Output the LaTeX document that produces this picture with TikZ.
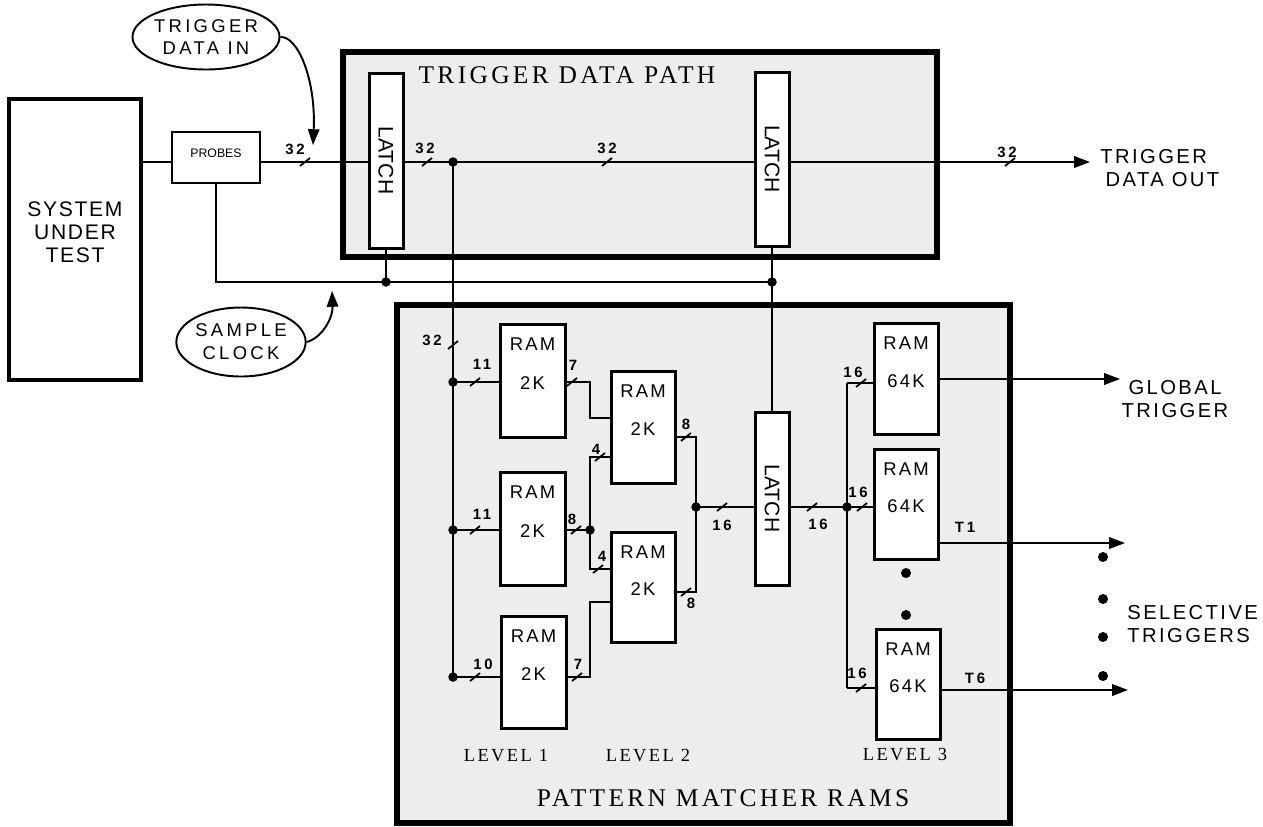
\documentclass[tikz,border=0pt]{standalone}
\usepackage{fontspec}
\setmainfont{Liberation Sans}
\newfontfamily\sutfont[LetterSpace=8]{Liberation Sans}
\newfontfamily\widesans[LetterSpace=18]{Liberation Sans}
\newfontfamily\midsans[LetterSpace=12]{Liberation Sans}
\newfontfamily\titlefont[LetterSpace=13]{Liberation Serif}
\newfontfamily\levelfont[LetterSpace=13]{Liberation Serif}
\usetikzlibrary{arrows.meta,shapes.geometric,fit,calc}
\tikzset{
  bigpanel/.style={draw, line width=3.2pt, fill=black!7, inner sep=0pt},
  blk/.style={draw, line width=1.7pt, fill=white, inner sep=0pt},
  wire/.style={line width=1.1pt},
  arr/.style={wire, -{Triangle[length=9pt,width=6.5pt]}},
  jdot/.style={circle, fill, inner sep=0pt, minimum size=0.19cm},
  bdot/.style={circle, fill, inner sep=0pt, minimum size=0.2cm},
  buslbl/.style={font=\widesans\fontsize{8.5}{9}\selectfont\bfseries, inner sep=0pt},
  ramtxt/.style={font=\midsans\fontsize{10.5}{12}\selectfont, inner sep=0pt},
  latchtxt/.style={font=\fontsize{12}{14}\selectfont, rotate=-90, inner sep=0pt},
  lvl/.style={font=\levelfont\fontsize{10.5}{12}\selectfont, inner sep=0pt},
  ttl/.style={font=\titlefont\fontsize{14.5}{16}\selectfont, inner sep=0pt},
  oval/.style={ellipse, draw, line width=1.1pt, fill=white, inner sep=0pt, align=center,
     font=\widesans\fontsize{10.5}{13}\selectfont},
  outlbl/.style={font=\midsans\fontsize{11.5}{13.5}\selectfont, inner sep=0pt},
  busslash/.pic={\draw[line width=1pt] (-5,4) -- (5,-4);}
}
\begin{document}
\begin{tikzpicture}[x=0.02cm,y=-0.02cm]
\useasboundingbox (0,0) rectangle (1263,826);

% panels
\node[bigpanel, fit={(343,52)(937,257)}] (tdp) {};
\node[bigpanel, fit={(397,305)(1010,823)}] (pmr) {};
\node[ttl] (tdpt) at (567,75) {TRIGGER DATA PATH};
\node[ttl] (pmrt) at (723,798) {PATTERN MATCHER RAMS};

% reference coordinates
\coordinate (m) at (0,162);
\coordinate (ck) at (0,282);
\coordinate (j1) at (453,162);
\coordinate (ja) at (453,382);
\coordinate (jb) at (453,530);
\coordinate (jc) at (453,677);
\coordinate (jd) at (590,530);
\coordinate (je) at (696,507);
\coordinate (jf) at (847,507);
\coordinate (jg) at (847,383);
\coordinate (jh) at (847,688);
\coordinate (tdoend) at (1090,162);
\coordinate (gend) at (1120,379);
\coordinate (t1end) at (1125,543);
\coordinate (t6end) at (1128,690);
\coordinate (tdiend) at (313,145);
\coordinate (scend) at (332,291);

% blocks
\node[blk, line width=2.8pt, fit={(9,99)(141,380)}, align=center,
      font=\sutfont\fontsize{12}{13}\selectfont] (sut) {SYSTEM\\UNDER\\TEST};
\node[blk, line width=1.3pt, fit={(172,132)(260,183)}, font=\fontsize{7}{8}\selectfont] (probes) {PROBES};
\node[blk, fit={(369,73)(403,248)}] (l1) {};
\node[blk, fit={(755,72)(789,246)}] (l2) {};
\node[blk, fit={(755,412)(789,585)}] (l3) {};

\node[blk, fit={(500,324)(565,437)}] (r1) {};
\node[blk, fit={(500,472)(565,585)}] (r2) {};
\node[blk, fit={(501,616)(566,728)}] (r3) {};
\node[blk, fit={(611,371)(675,483)}] (q1) {};
\node[blk, fit={(611,532)(675,642)}] (q2) {};
\node[blk, fit={(874,323)(938,434)}] (s1) {};
\node[blk, fit={(874,449)(938,559)}] (s2) {};
\node[blk, fit={(876,629)(940,739)}] (s3) {};

% wires: trigger data path
\draw[wire] (sut.east |- m) -- (probes.west |- m);
\draw[wire] (probes.east |- m) -- (l1.west |- m);
\draw[wire] (l1.east |- m) -- (l2.west |- m);
\draw[arr] (l2.east |- m) -- (tdoend);

% clock
\draw[wire] (probes.south) |- (l2.south |- ck);
\draw[wire] (l1.south) -- (l1.south |- ck);
\draw[wire] (l2.south) -- (l3.north);
\node[jdot] at (l1.south |- ck) {};
\node[jdot] at (l2.south |- ck) {};

% level 1 bus
\draw[wire] (j1) -- (jc);
\node[jdot] at (j1) {};
\node[jdot] at (ja) {};
\node[jdot] at (jb) {};
\node[jdot] at (jc) {};
\draw[wire] (ja) -- (r1.west |- ja);
\draw[wire] (jb) -- (r2.west |- jb);
\draw[wire] (jc) -- (r3.west |- jc);

% level 1 -> level 2
\draw[wire] (r1.east |- ja) -- (590,382) |- (q1.west |- 0,418);
\draw[wire] (r2.east |- jd) -- (jd);
\draw[wire] (jd) |- (q1.west |- 0,457);
\draw[wire] (jd) |- (q2.west |- 0,569);
\node[jdot] at (jd) {};
\draw[wire] (r3.east |- jc) -- (590,677) |- (q2.west |- 0,602);

% level 2 -> latch 3
\draw[wire] (q1.east |- 0,437) -| (je);
\draw[wire] (q2.east |- 0,592) -| (je);
\draw[wire] (je) -- (l3.west |- je);
\node[jdot] at (je) {};

% latch 3 -> level 3
\draw[wire] (l3.east |- jf) -- (jf);
\node[jdot] at (jf) {};
\draw[wire] (jg) -- (jh);
\draw[wire] (jg) -- (s1.west |- jg);
\draw[wire] (jf) -- (s2.west |- jf);
\draw[wire] (jh) -- (s3.west |- jh);

% outputs
\draw[arr] (s1.east |- gend) -- (gend);
\draw[arr] (s2.east |- t1end) -- (t1end);
\draw[arr] (s3.east |- t6end) -- (t6end);

% block texts
\node[latchtxt] at (l1.center) {LATCH};
\node[latchtxt] at (l2.center) {LATCH};
\node[latchtxt] at (l3.center) {LATCH};
\foreach \b/\k in {r1/2K,r2/2K,r3/2K,q1/2K,q2/2K,s1/64K,s2/64K,s3/64K}{
  \node[ramtxt] at ([yshift=-0.44cm]\b.north) {RAM};
  \node[ramtxt] at ([yshift=-0.05cm]\b.center) {\k};
}

% bus slashes
\foreach \p in {(305,162),(427,162),(607,162),(1010,162),(453,345),
                (475,382),(572,382),(475,530),(576,530),(475,677),(577,677),
                (600,457),(598,569),(686,437),(686,592),(722,507),(812,507),
                (861,383),(862,507),(861,688)}{
  \pic at \p {busslash};
}

% bus labels
\node[buslbl] at (295,149) {32};
\node[buslbl] at (425,148) {32};
\node[buslbl] at (607,148) {32};
\node[buslbl] at (1007,152) {32};
\node[buslbl] at (432,340) {32};
\node[buslbl] at (482,364) {11};
\node[buslbl] at (573,365) {7};
\node[buslbl] at (482,514) {11};
\node[buslbl] at (572,519) {8};
\node[buslbl] at (483,664) {10};
\node[buslbl] at (578,664) {7};
\node[buslbl] at (596,449) {4};
\node[buslbl] at (602,556) {4};
\node[buslbl] at (686,424) {8};
\node[buslbl] at (691,603) {8};
\node[buslbl] at (722,525) {16};
\node[buslbl] at (818,524) {16};
\node[buslbl] at (853,372) {16};
\node[buslbl] at (858,492) {16};
\node[buslbl] at (857,673) {16};
\node[buslbl] at (965,527) {T1};
\node[buslbl] at (975,678) {T6};

% ellipsis dots
\node[bdot] at (906,573) {};
\node[bdot] at (906,615) {};
\node[bdot] at (1103,557) {};
\node[bdot] at (1103,599) {};
\node[bdot] at (1103,637) {};
\node[bdot] at (1103,676) {};

% level labels
\node[lvl] at (506,756) {LEVEL 1};
\node[lvl] at (648,756) {LEVEL 2};
\node[lvl] at (905,755) {LEVEL 3};

% outside labels
\node[outlbl, anchor=west, align=left] (tdo) at (1100,168) {TRIGGER\\\hspace*{3pt}DATA OUT};
\node[outlbl, align=center] (glb) at (1175,399) {GLOBAL\\TRIGGER};
\node[outlbl, anchor=west, align=left] (sel) at (1127,624) {SELECTIVE\\TRIGGERS};

% ovals with curved arrows
\node[oval, minimum width=2.36cm, minimum height=1.3cm] (tdi) at (206,37) {TRIGGER\\DATA IN};
\draw[arr] (tdi.east) .. controls (298,36) and (316,80) .. (tdiend);
\node[oval, minimum width=2.34cm, minimum height=1.38cm] (sc) at (241,342) {SAMPLE\\CLOCK};
\draw[arr] (sc.east) .. controls (322,338) and (333,318) .. (scend);
\end{tikzpicture}
\end{document}
